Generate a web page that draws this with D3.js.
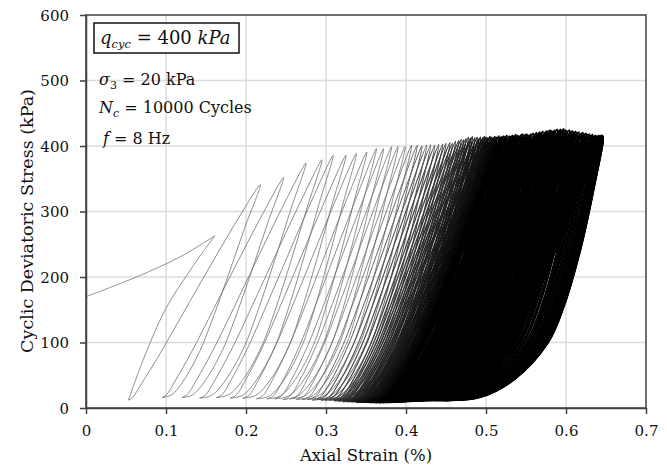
<!DOCTYPE html>
<html lang="en">
<head>
<meta charset="UTF-8">
<title>Cyclic stress-strain loops</title>
<script src="https://cdn.jsdelivr.net/npm/d3@7"></script>
<style>
    html, body { margin: 0; padding: 0; background: #fff; }
    svg text { font-family: "DejaVu Serif", "Liberation Serif", serif; fill: #111; }
</style>
</head>
<body>
<svg id="chart" width="667" height="469"></svg>
<script>
// axis ticks
const xTicks = [0, 0.1, 0.2, 0.3, 0.4, 0.5, 0.6, 0.7];
const yTicks = [0, 100, 200, 300, 400, 500, 600];

// first quarter cycle: initial loading and first unloading
const initStrain = [0, 0.063, 0.118, 0.161, 0.130, 0.099, 0.072, 0.053];
const initStress = [170, 200, 231, 263, 210, 150, 75, 12];

// cycle peaks (strain %, stress kPa)
const peakStrain = [
    0.218, 0.247, 0.275, 0.295, 0.309, 0.325, 0.338, 0.351, 0.363, 0.372,
    0.382, 0.390, 0.399, 0.407, 0.414, 0.420, 0.426, 0.431, 0.436, 0.441,
    0.446, 0.450, 0.455, 0.458, 0.462, 0.466, 0.469, 0.472, 0.475, 0.478,
    0.481, 0.483, 0.486, 0.489, 0.491, 0.493, 0.496, 0.498, 0.500, 0.502,
    0.505, 0.507, 0.509, 0.511, 0.513, 0.516, 0.518, 0.520, 0.522, 0.524,
    0.526, 0.529, 0.531, 0.533, 0.535, 0.537, 0.539, 0.541, 0.544, 0.546,
    0.548, 0.550, 0.552, 0.554, 0.556, 0.559, 0.561, 0.563, 0.565, 0.567,
    0.569, 0.571, 0.574, 0.576, 0.578, 0.580, 0.582, 0.584, 0.586, 0.589,
    0.591, 0.593, 0.595, 0.597, 0.599, 0.601, 0.604, 0.606, 0.608, 0.610,
    0.612, 0.614, 0.616, 0.619, 0.621, 0.623, 0.625, 0.627, 0.629, 0.631,
    0.633, 0.635, 0.637, 0.638, 0.640, 0.641, 0.642, 0.643, 0.644, 0.645,
    0.645, 0.646, 0.646, 0.645, 0.646
];
const peakStress = [
    341, 352, 374, 379, 386, 386, 389, 391, 396, 396,
    399, 399, 399, 401, 401, 400, 401, 402, 401, 402,
    403, 404, 405, 404, 407, 408, 410, 409, 411, 413,
    412, 414, 412, 413, 411, 413, 412, 414, 413, 412,
    414, 413, 412, 414, 413, 415, 413, 414, 415, 414,
    416, 415, 414, 416, 415, 417, 416, 415, 417, 418,
    416, 418, 417, 416, 418, 419, 417, 420, 419, 421,
    420, 422, 421, 423, 422, 424, 423, 422, 424, 425,
    423, 425, 424, 426, 424, 423, 424, 422, 423, 421,
    422, 420, 421, 419, 420, 418, 419, 417, 418, 416,
    417, 415, 416, 414, 415, 416, 414, 415, 416, 414,
    415, 414, 415, 416, 414
];
// valleys between cycles (one more than peaks)
const valleyStrain = [
    0.053, 0.095, 0.120, 0.142, 0.163, 0.180, 0.196, 0.213, 0.226, 0.236,
    0.246, 0.255, 0.263, 0.270, 0.277, 0.283, 0.289, 0.294, 0.299, 0.304,
    0.309, 0.311, 0.313, 0.315, 0.317, 0.319, 0.321, 0.323, 0.325, 0.327,
    0.329, 0.331, 0.333, 0.335, 0.336, 0.338, 0.340, 0.342, 0.344, 0.345,
    0.347, 0.349, 0.351, 0.352, 0.354, 0.356, 0.357, 0.359, 0.361, 0.362,
    0.364, 0.366, 0.367, 0.369, 0.371, 0.372, 0.374, 0.376, 0.377, 0.379,
    0.381, 0.382, 0.384, 0.386, 0.387, 0.389, 0.390, 0.392, 0.394, 0.395,
    0.397, 0.398, 0.400, 0.402, 0.403, 0.405, 0.406, 0.408, 0.409, 0.411,
    0.412, 0.414, 0.415, 0.417, 0.418, 0.420, 0.421, 0.423, 0.424, 0.426,
    0.427, 0.428, 0.430, 0.431, 0.432, 0.434, 0.435, 0.436, 0.437, 0.439,
    0.440, 0.441, 0.442, 0.443, 0.444, 0.445, 0.446, 0.447, 0.447, 0.448,
    0.449, 0.449, 0.450, 0.450, 0.451, 0.452
];
const valleyStress = [
    12, 16, 16, 15, 16, 15, 15, 14, 14, 14,
    13, 14, 13, 13, 13, 12, 13, 12, 12, 12,
    12, 11, 12, 11, 11, 12, 10, 11, 11, 10,
    11, 10, 10, 11, 10, 9, 10, 10, 9, 10,
    10, 9, 10, 9, 9, 10, 9, 10, 9, 9,
    10, 9, 9, 10, 9, 10, 10, 9, 10, 10,
    10, 11, 10, 10, 11, 10, 11, 11, 10, 11,
    11, 11, 12, 11, 11, 12, 11, 12, 12, 11,
    12, 12, 12, 13, 12, 12, 13, 12, 13, 12,
    13, 13, 12, 13, 13, 12, 13, 13, 12, 13,
    13, 12, 13, 13, 12, 13, 13, 12, 13, 13,
    12, 13, 13, 12, 13, 13
];

// normalised branch shapes (stress fraction -> strain fraction)
const shapeT      = [0, 0.012, 0.077, 0.216, 0.355, 0.58, 0.8, 1];
const shapeLinear = [0, 0.03, 0.10, 0.24, 0.37, 0.58, 0.79, 1];
const shapeSoft   = [0, 0.22, 0.43, 0.646, 0.749, 0.859, 0.94, 1];

const svg = d3.select("#chart");
const margin = {left: 86, right: 21, top: 15, bottom: 61};
const W = 667 - margin.left - margin.right;
const H = 469 - margin.top - margin.bottom;

const x = d3.scaleLinear().domain([0, 0.7]).range([margin.left, margin.left + W]);
const y = d3.scaleLinear().domain([0, 600]).range([margin.top + H, margin.top]);

// grid
svg.append("g").selectAll("line").data(xTicks.slice(1, -1)).join("line")
    .attr("x1", d => x(d)).attr("x2", d => x(d))
    .attr("y1", y(0)).attr("y2", y(600))
    .attr("stroke", "#dcdcdc").attr("stroke-width", 1.5);
svg.append("g").selectAll("line").data(yTicks.slice(1, -1)).join("line")
    .attr("x1", x(0)).attr("x2", x(0.7))
    .attr("y1", d => y(d)).attr("y2", d => y(d))
    .attr("stroke", "#dcdcdc").attr("stroke-width", 1.5);

// loops
const line = d3.line().x(d => x(d[0])).y(d => y(d[1])).curve(d3.curveCatmullRom);
const loops = svg.append("g").attr("fill", "none");

const initPts = initStrain.map((e, i) => [e, initStress[i]]);
loops.selectAll("path.init").data([initPts.slice(0, 4), initPts.slice(3)]).join("path")
    .attr("class", "init").attr("stroke", "#777").attr("stroke-width", 0.8)
    .attr("d", line);

function branch(e0, s0, e1, s1, k) {
    // from valley (e0,s0) up to peak (e1,s1)
    return shapeT.map((t, j) => {
        const g = (1 - k) * shapeLinear[j] + k * shapeSoft[j];
        return [e0 + (e1 - e0) * g, s0 + (s1 - s0) * t];
    });
}

const clamp = v => Math.min(1, Math.max(0, v));
const shade = d3.interpolateRgb("#6a6a6a", "#000");
peakStrain.forEach((p, i) => {
    const k = clamp((p - 0.22) / 0.42);
    const up = branch(valleyStrain[i], valleyStress[i], p, peakStress[i], k * 0.45);
    const down = branch(valleyStrain[i + 1], valleyStress[i + 1], p, peakStress[i], 0.35 + 0.65 * k).reverse();
    const dense = clamp((p - 0.40) / 0.12);
    loops.append("path")
        .attr("stroke", shade(dense))
        .attr("stroke-width", 0.75 + dense * 1.4)
        .attr("d", line(up.concat(down.slice(1))));
});

// frame
svg.append("rect")
    .attr("x", x(0)).attr("y", y(600)).attr("width", W).attr("height", H)
    .attr("fill", "none").attr("stroke", "#404040").attr("stroke-width", 1.5);

// axes
const xAxis = svg.append("g").attr("transform", `translate(0,${y(0)})`)
    .call(d3.axisBottom(x).tickValues(xTicks).tickSizeInner(6).tickSizeOuter(0)
        .tickFormat(d => d === 0 ? "0" : d3.format(".1f")(d)));
const yAxis = svg.append("g").attr("transform", `translate(${x(0)},0)`)
    .call(d3.axisLeft(y).tickValues(yTicks).tickSizeInner(6).tickSizeOuter(0));
[xAxis, yAxis].forEach(a => {
    a.select(".domain").attr("stroke", "#404040").attr("stroke-width", 1.5);
    a.selectAll(".tick line").attr("stroke", "#404040").attr("stroke-width", 1.5);
    a.selectAll("text").attr("font-family", "DejaVu Serif").attr("font-size", 15).attr("fill", "#111");
});
xAxis.selectAll("text").attr("dy", null).attr("y", 28);
yAxis.selectAll("text").attr("x", -17).attr("dy", "0.35em");

// axis titles
svg.append("text").attr("x", x(0.35)).attr("y", 461).attr("text-anchor", "middle")
    .attr("font-size", 16.5).text("Axial Strain (%)");
svg.append("text").attr("transform", "translate(33,221) rotate(-90)").attr("text-anchor", "middle")
    .attr("font-size", 17.5).text("Cyclic Deviatoric Stress (kPa)");

// annotations
svg.append("rect").attr("x", 94).attr("y", 23).attr("width", 145).attr("height", 30)
    .attr("fill", "#fff").attr("stroke", "#111").attr("stroke-width", 1.5);
const q = svg.append("text").attr("x", 100).attr("y", 44).attr("font-size", 18);
q.append("tspan").attr("font-style", "italic").text("q");
q.append("tspan").attr("font-style", "italic").attr("font-size", 11.5).attr("dy", 4).text("cyc");
q.append("tspan").attr("dy", -4).text(" = 400 ");
q.append("tspan").attr("font-style", "italic").text("kPa");

const s3 = svg.append("text").attr("x", 99).attr("y", 85).attr("font-size", 16);
s3.append("tspan").attr("font-style", "italic").text("σ");
s3.append("tspan").attr("font-size", 11).attr("dy", 4).text("3");
s3.append("tspan").attr("dy", -4).text(" = 20 kPa");

const nc = svg.append("text").attr("x", 99).attr("y", 112.5).attr("font-size", 16);
nc.append("tspan").attr("font-style", "italic").text("N");
nc.append("tspan").attr("font-style", "italic").attr("font-size", 11).attr("dy", 4).text("c");
nc.append("tspan").attr("dy", -4).text(" = 10000 Cycles");

const fr = svg.append("text").attr("x", 103).attr("y", 144).attr("font-size", 16);
fr.append("tspan").attr("font-style", "italic").text("f");
fr.append("tspan").text(" = 8 Hz");
</script>
</body>
</html>
